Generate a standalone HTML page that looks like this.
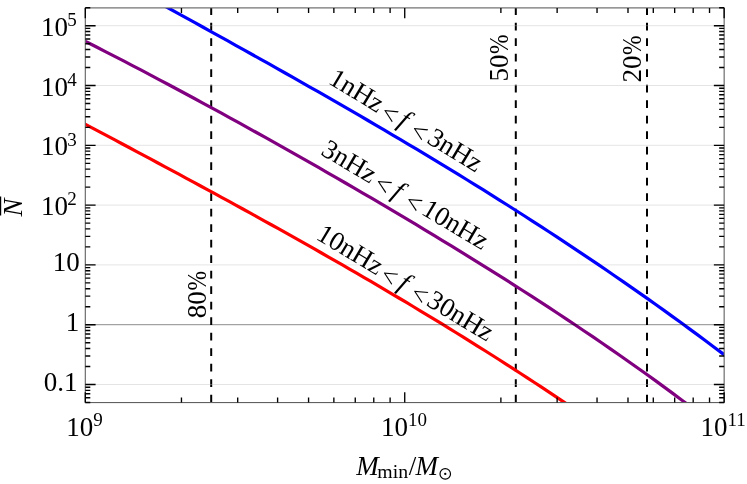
<!DOCTYPE html>
<html lang="en"><head><meta charset="utf-8"><title>Expected number of binaries vs minimum mass</title>
<style>html,body{margin:0;padding:0;background:#fff;}body{width:747px;height:484px;overflow:hidden;}svg{display:block;will-change:transform;}text{font-family:"Liberation Serif",serif;fill:#000;}.i{font-style:italic;}</style>
</head><body>
<svg width="747" height="484" viewBox="0 0 747 484">
<rect x="0" y="0" width="747" height="484" fill="#fff"/>
<defs><clipPath id="c"><rect x="85.30" y="7.90" width="638.85" height="394.65"/></clipPath></defs>
<g id="dash" stroke="#000" stroke-width="2" stroke-dasharray="7.8 7.7" fill="none">
<line x1="211.20" y1="402.55" x2="211.20" y2="7.90"/>
<line x1="515.80" y1="402.55" x2="515.80" y2="7.90"/>
<line x1="647.00" y1="402.55" x2="647.00" y2="7.90"/>
</g>
<g id="grid" stroke="#bcbcbc" stroke-width="0.4" fill="none">
<line x1="85.30" y1="384.50" x2="724.15" y2="384.50"/>
<line x1="85.30" y1="264.90" x2="724.15" y2="264.90"/>
<line x1="85.30" y1="205.10" x2="724.15" y2="205.10"/>
<line x1="85.30" y1="145.30" x2="724.15" y2="145.30"/>
<line x1="85.30" y1="85.50" x2="724.15" y2="85.50"/>
<line x1="85.30" y1="25.70" x2="724.15" y2="25.70"/>
</g>
<g clip-path="url(#c)" fill="none" stroke-width="3.2" stroke-linejoin="round">
<path id="red" d="M79.30 121.05 L86.41 124.82 L93.52 128.60 L100.63 132.38 L107.75 136.16 L114.86 139.94 L121.97 143.73 L129.08 147.52 L136.19 151.32 L143.30 155.12 L150.42 158.92 L157.53 162.73 L164.64 166.55 L171.75 170.37 L178.86 174.20 L185.97 178.04 L193.09 181.88 L200.20 185.73 L207.31 189.59 L214.42 193.46 L221.53 197.34 L228.64 201.22 L235.76 205.12 L242.87 209.02 L249.98 212.94 L257.09 216.86 L264.20 220.80 L271.31 224.75 L278.42 228.71 L285.54 232.69 L292.65 236.67 L299.76 240.67 L306.87 244.68 L313.98 248.71 L321.09 252.75 L328.21 256.81 L335.32 260.88 L342.43 264.96 L349.54 269.06 L356.65 273.18 L363.76 277.32 L370.88 281.47 L377.99 285.64 L385.10 289.82 L392.21 294.03 L399.32 298.25 L406.43 302.49 L413.54 306.75 L420.66 311.03 L427.77 315.33 L434.88 319.65 L441.99 323.99 L449.10 328.36 L456.21 332.74 L463.33 337.15 L470.44 341.57 L477.55 346.03 L484.66 350.50 L491.77 355.00 L498.88 359.52 L506.00 364.06 L513.11 368.63 L520.22 373.23 L527.33 377.85 L534.44 382.50 L541.55 387.17 L548.67 391.87 L555.78 396.59 L562.89 401.35 L570.00 406.13" stroke="#ff0000"/>
<path id="purple" d="M79.30 38.32 L88.16 42.79 L97.02 47.28 L105.87 51.81 L114.73 56.37 L123.59 60.95 L132.45 65.56 L141.31 70.20 L150.16 74.86 L159.02 79.54 L167.88 84.25 L176.74 88.98 L185.60 93.73 L194.45 98.51 L203.31 103.30 L212.17 108.12 L221.03 112.96 L229.89 117.82 L238.74 122.69 L247.60 127.59 L256.46 132.51 L265.32 137.45 L274.18 142.40 L283.03 147.38 L291.89 152.38 L300.75 157.39 L309.61 162.43 L318.47 167.48 L327.32 172.56 L336.18 177.65 L345.04 182.76 L353.90 187.90 L362.76 193.06 L371.61 198.24 L380.47 203.44 L389.33 208.66 L398.19 213.91 L407.04 219.18 L415.90 224.47 L424.76 229.79 L433.62 235.14 L442.48 240.51 L451.33 245.91 L460.19 251.34 L469.05 256.80 L477.91 262.29 L486.77 267.81 L495.62 273.36 L504.48 278.95 L513.34 284.57 L522.20 290.23 L531.06 295.92 L539.91 301.66 L548.77 307.43 L557.63 313.25 L566.49 319.10 L575.35 325.01 L584.20 330.96 L593.06 336.95 L601.92 343.00 L610.78 349.10 L619.64 355.25 L628.49 361.45 L637.35 367.71 L646.21 374.03 L655.07 380.41 L663.93 386.85 L672.78 393.36 L681.64 399.93 L690.50 406.57" stroke="#800080"/>
<path id="blue" d="M161.50 4.25 L169.74 8.79 L177.99 13.34 L186.23 17.88 L194.47 22.44 L202.72 26.99 L210.96 31.56 L219.20 36.13 L227.45 40.71 L235.69 45.29 L243.93 49.88 L252.18 54.49 L260.42 59.10 L268.67 63.72 L276.91 68.36 L285.15 73.00 L293.40 77.66 L301.64 82.33 L309.88 87.02 L318.13 91.72 L326.37 96.43 L334.61 101.16 L342.86 105.91 L351.10 110.67 L359.34 115.45 L367.59 120.25 L375.83 125.07 L384.07 129.91 L392.32 134.77 L400.56 139.65 L408.80 144.55 L417.05 149.47 L425.29 154.41 L433.53 159.38 L441.78 164.38 L450.02 169.39 L458.27 174.44 L466.51 179.50 L474.75 184.60 L483.00 189.72 L491.24 194.87 L499.48 200.05 L507.73 205.26 L515.97 210.50 L524.21 215.77 L532.46 221.07 L540.70 226.41 L548.94 231.77 L557.19 237.17 L565.43 242.60 L573.67 248.07 L581.92 253.57 L590.16 259.11 L598.40 264.69 L606.65 270.30 L614.89 275.95 L623.13 281.63 L631.38 287.36 L639.62 293.13 L647.87 298.93 L656.11 304.78 L664.35 310.67 L672.60 316.60 L680.84 322.58 L689.08 328.60 L697.33 334.66 L705.57 340.77 L713.81 346.92 L722.06 353.12 L730.30 359.37" stroke="#0000ff"/>
</g>
<line id="one" x1="85.30" y1="324.70" x2="724.15" y2="324.70" stroke="#000" stroke-opacity="0.45" stroke-width="1"/>
<rect id="box" x="85.30" y="7.90" width="638.85" height="394.65" fill="none" stroke="#606060" stroke-width="1.1"/>
<path id="ticks" d="M85.30 402.50h5.00M724.15 402.50h-5.00M85.30 397.77h5.00M724.15 397.77h-5.00M85.30 393.76h5.00M724.15 393.76h-5.00M85.30 390.30h5.00M724.15 390.30h-5.00M85.30 387.24h5.00M724.15 387.24h-5.00M85.30 384.50h10.30M724.15 384.50h-10.30M85.30 366.50h5.00M724.15 366.50h-5.00M85.30 355.97h5.00M724.15 355.97h-5.00M85.30 348.50h5.00M724.15 348.50h-5.00M85.30 342.70h5.00M724.15 342.70h-5.00M85.30 337.97h5.00M724.15 337.97h-5.00M85.30 333.96h5.00M724.15 333.96h-5.00M85.30 330.50h5.00M724.15 330.50h-5.00M85.30 327.44h5.00M724.15 327.44h-5.00M85.30 324.70h10.30M724.15 324.70h-10.30M85.30 306.70h5.00M724.15 306.70h-5.00M85.30 296.17h5.00M724.15 296.17h-5.00M85.30 288.70h5.00M724.15 288.70h-5.00M85.30 282.90h5.00M724.15 282.90h-5.00M85.30 278.17h5.00M724.15 278.17h-5.00M85.30 274.16h5.00M724.15 274.16h-5.00M85.30 270.70h5.00M724.15 270.70h-5.00M85.30 267.64h5.00M724.15 267.64h-5.00M85.30 264.90h10.30M724.15 264.90h-10.30M85.30 246.90h5.00M724.15 246.90h-5.00M85.30 236.37h5.00M724.15 236.37h-5.00M85.30 228.90h5.00M724.15 228.90h-5.00M85.30 223.10h5.00M724.15 223.10h-5.00M85.30 218.37h5.00M724.15 218.37h-5.00M85.30 214.36h5.00M724.15 214.36h-5.00M85.30 210.90h5.00M724.15 210.90h-5.00M85.30 207.84h5.00M724.15 207.84h-5.00M85.30 205.10h10.30M724.15 205.10h-10.30M85.30 187.10h5.00M724.15 187.10h-5.00M85.30 176.57h5.00M724.15 176.57h-5.00M85.30 169.10h5.00M724.15 169.10h-5.00M85.30 163.30h5.00M724.15 163.30h-5.00M85.30 158.57h5.00M724.15 158.57h-5.00M85.30 154.56h5.00M724.15 154.56h-5.00M85.30 151.10h5.00M724.15 151.10h-5.00M85.30 148.04h5.00M724.15 148.04h-5.00M85.30 145.30h10.30M724.15 145.30h-10.30M85.30 127.30h5.00M724.15 127.30h-5.00M85.30 116.77h5.00M724.15 116.77h-5.00M85.30 109.30h5.00M724.15 109.30h-5.00M85.30 103.50h5.00M724.15 103.50h-5.00M85.30 98.77h5.00M724.15 98.77h-5.00M85.30 94.76h5.00M724.15 94.76h-5.00M85.30 91.30h5.00M724.15 91.30h-5.00M85.30 88.24h5.00M724.15 88.24h-5.00M85.30 85.50h10.30M724.15 85.50h-10.30M85.30 67.50h5.00M724.15 67.50h-5.00M85.30 56.97h5.00M724.15 56.97h-5.00M85.30 49.50h5.00M724.15 49.50h-5.00M85.30 43.70h5.00M724.15 43.70h-5.00M85.30 38.97h5.00M724.15 38.97h-5.00M85.30 34.96h5.00M724.15 34.96h-5.00M85.30 31.50h5.00M724.15 31.50h-5.00M85.30 28.44h5.00M724.15 28.44h-5.00M85.30 25.70h10.30M724.15 25.70h-10.30M85.30 7.70h5.00M724.15 7.70h-5.00M85.30 402.55v-10.30M85.30 7.90v10.30M181.46 402.55v-5.00M181.46 7.90v5.00M237.70 402.55v-5.00M237.70 7.90v5.00M277.61 402.55v-5.00M277.61 7.90v5.00M308.57 402.55v-5.00M308.57 7.90v5.00M333.86 402.55v-5.00M333.86 7.90v5.00M355.25 402.55v-5.00M355.25 7.90v5.00M373.77 402.55v-5.00M373.77 7.90v5.00M390.11 402.55v-5.00M390.11 7.90v5.00M404.73 402.55v-10.30M404.73 7.90v10.30M500.88 402.55v-5.00M500.88 7.90v5.00M557.13 402.55v-5.00M557.13 7.90v5.00M597.04 402.55v-5.00M597.04 7.90v5.00M627.99 402.55v-5.00M627.99 7.90v5.00M653.29 402.55v-5.00M653.29 7.90v5.00M674.67 402.55v-5.00M674.67 7.90v5.00M693.19 402.55v-5.00M693.19 7.90v5.00M709.53 402.55v-5.00M709.53 7.90v5.00M724.15 402.55v-10.30M724.15 7.90v10.30" stroke="#000" stroke-width="1.35" fill="none"/>
<text id="m_y2" x="40.95" y="215.10" font-size="27.00">10<tspan id="m_y2s" x="67.3" dy="-9.8" font-size="19.00">2</tspan></text>
<text id="m_y3" x="40.95" y="155.30" font-size="27.00">10<tspan id="m_y3s" x="67.3" dy="-9.8" font-size="19.00">3</tspan></text>
<text id="m_y4" x="40.95" y="95.50" font-size="27.00">10<tspan id="m_y4s" x="67.3" dy="-9.8" font-size="19.00">4</tspan></text>
<text id="m_y5" x="40.95" y="35.70" font-size="27.00">10<tspan id="m_y5s" x="67.3" dy="-9.8" font-size="19.00">5</tspan></text>
<text id="m_y1" x="52.80" y="271.10" font-size="27.00">10</text>
<text id="m_y0" x="65.70" y="330.90" font-size="27.00">1</text>
<text id="m_yn1" x="43.70" y="390.70" font-size="27.00">0.1</text>
<text id="m_x9" x="66.30" y="435.6" font-size="27.00">10<tspan id="m_x9s" x="93.30" dy="-9.3" font-size="19.00">9</tspan></text>
<text id="m_x10" x="381.10" y="435.6" font-size="27.00">10<tspan id="m_x10s" x="408.10" dy="-9.3" font-size="19.00">10</tspan></text>
<text id="m_x11" x="700.50" y="435.6" font-size="27.00">10<tspan id="m_x11s" x="727.50" dy="-9.3" font-size="19.00">11</tspan></text>
<text id="m_xl" y="474.6" font-size="27.00"><tspan id="m_M1" x="356.3" class="i">M</tspan><tspan id="m_min" x="377.3" dy="3.2" font-size="19.8">min</tspan><tspan id="m_sl" x="408.7" dy="-3.2">/</tspan><tspan id="m_M2" x="415.4" class="i">M</tspan></text>
<g id="m_sun"><circle cx="445.25" cy="473.9" r="5.25" fill="none" stroke="#000" stroke-width="1.2"/><circle cx="445.25" cy="473.9" r="1.15" fill="#000"/></g>
<g transform="translate(22.3,216.6) rotate(-90)"><text id="m_N" x="0" y="0" font-size="27.00" class="i">N</text><line id="m_bar" x1="1" y1="-21.7" x2="20" y2="-21.7" stroke="#000" stroke-width="1.2"/></g>
<text id="m_p80" transform="translate(206.00,318.20) rotate(-90)" font-size="27.00">80<tspan dx="0.6" textLength="19.6" lengthAdjust="spacingAndGlyphs">%</tspan></text>
<text id="m_p50" transform="translate(508.40,81.60) rotate(-90)" font-size="27.00">50<tspan dx="0.6" textLength="19.6" lengthAdjust="spacingAndGlyphs">%</tspan></text>
<text id="m_p20" transform="translate(641.30,82.50) rotate(-90)" font-size="27.00">20<tspan dx="0.6" textLength="19.6" lengthAdjust="spacingAndGlyphs">%</tspan></text>
<g transform="translate(327.30,82.80) rotate(31.20)"><text id="m_l1" x="0" y="0" font-size="27.00">1nHz<tspan dx="3.4" dy="2.8">&lt;</tspan><tspan dx="4.1" dy="-2.8" class="i">f</tspan><tspan dx="7.7" dy="2.8">&lt;</tspan><tspan dx="3.3" dy="-2.8">3nHz</tspan></text></g>
<g transform="translate(319.80,153.90) rotate(30.70)"><text id="m_l2" x="0" y="0" font-size="27.00">3nHz<tspan dx="4.2" dy="2.8">&lt;</tspan><tspan dx="4.5" dy="-2.8" class="i">f</tspan><tspan dx="8.1" dy="2.8">&lt;</tspan><tspan dx="3.5" dy="-2.8">10nHz</tspan></text></g>
<g transform="translate(315.00,238.50) rotate(31.00)"><text id="m_l3" x="0" y="0" font-size="27.00">10nHz<tspan dx="3.4" dy="2.8">&lt;</tspan><tspan dx="4.8" dy="-2.8" class="i">f</tspan><tspan dx="7.8" dy="2.8">&lt;</tspan><tspan dx="2.8" dy="-2.8">30nHz</tspan></text></g>
</svg></body></html>
